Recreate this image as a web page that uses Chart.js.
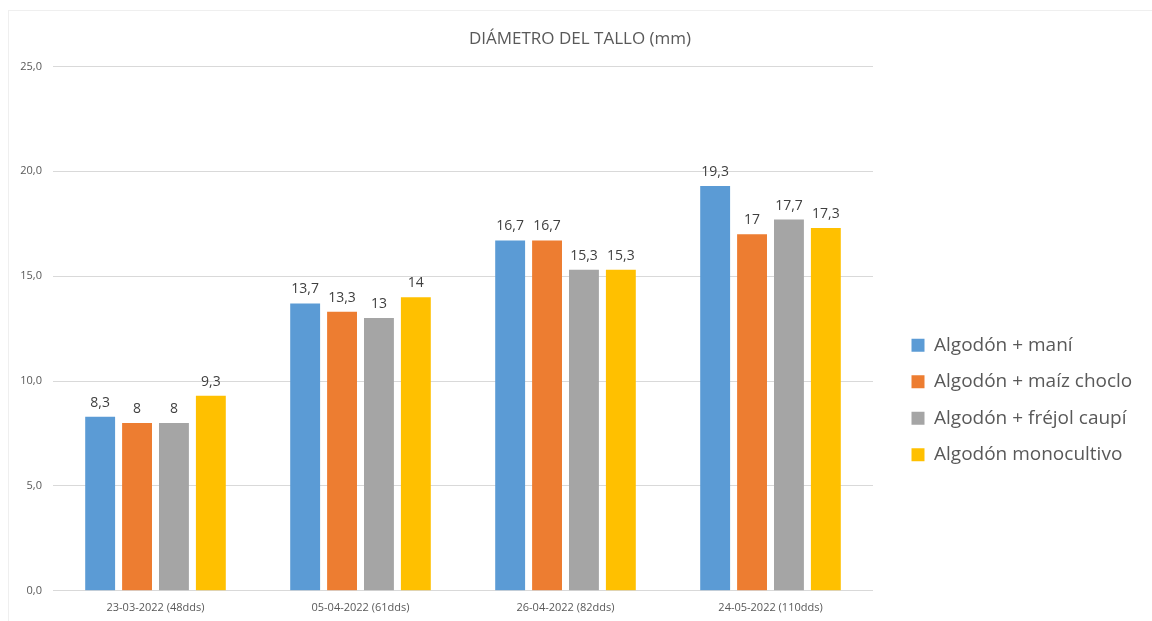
<!DOCTYPE html>
<html>
<head>
<meta charset="utf-8">
<script src="https://cdn.jsdelivr.net/npm/chart.js@4.4.1/dist/chart.umd.min.js"></script>
<style>
  html, body { margin: 0; padding: 0; background: #ffffff; }
  #wrap { width: 1152px; height: 621px; position: relative; }
  canvas { display: block; }
</style>
</head>
<body>
<div id="wrap"><canvas id="chart" width="1152" height="621"></canvas></div>
<script>
// Sampling dates (days after sowing)
const categories = ['23-03-2022 (48dds)', '05-04-2022 (61dds)', '26-04-2022 (82dds)', '24-05-2022 (110dds)'];

// Series names
const seriesNames = ['Algodón + maní', 'Algodón + maíz choclo', 'Algodón + fréjol caupí', 'Algodón monocultivo'];

// Stem diameter (mm) per treatment
const algodonMani = [8.3, 13.7, 16.7, 19.3];
const algodonMaiz = [8, 13.3, 16.7, 17];
const algodonFrejol = [8, 13, 15.3, 17.7];
const algodonMonocultivo = [9.3, 14, 15.3, 17.3];

// Value axis
const yMin = 0;
const yMax = 25;
const yStep = 5;

const seriesValues = [algodonMani, algodonMaiz, algodonFrejol, algodonMonocultivo];
const seriesColors = ['#5B9BD5', '#ED7D31', '#A5A5A5', '#FFC000'];

const FONT = "'Open Sans', 'Liberation Sans', sans-serif";
const decimalComma = v => String(v).replace('.', ',');

// White background and faint frame around the chart
const framePlugin = {
  id: 'frame',
  beforeDraw(chart) {
    const ctx = chart.ctx;
    ctx.save();
    ctx.fillStyle = '#ffffff';
    ctx.fillRect(0, 0, chart.width, chart.height);
    ctx.strokeStyle = '#efefef';
    ctx.lineWidth = 1;
    ctx.strokeRect(8.5, 10.5, chart.width + 20, chart.height + 20);
    ctx.restore();
  }
};

// Value labels above each bar
const valueLabels = {
  id: 'valueLabels',
  afterDatasetsDraw(chart) {
    const ctx = chart.ctx;
    ctx.save();
    ctx.font = `14px ${FONT}`;
    ctx.fillStyle = '#404040';
    ctx.textAlign = 'center';
    ctx.textBaseline = 'bottom';
    chart.data.datasets.forEach((ds, i) => {
      chart.getDatasetMeta(i).data.forEach((bar, j) => {
        ctx.fillText(decimalComma(ds.data[j]), bar.x, bar.y - 7);
      });
    });
    ctx.restore();
  }
};

// Legend: fixed column width on the right, items placed lower in the column
const LEGEND_WIDTH = 279;
const legendPlacement = {
  id: 'legendPlacement',
  beforeLayout(chart) {
    const lg = chart.legend;
    if (lg && !lg._fixedWidth) {
      const fit = lg.fit.bind(lg);
      lg.fit = function () { fit(); this.width = LEGEND_WIDTH; };
      lg._fixedWidth = true;
    }
  },
  afterUpdate(chart) {
    const lg = chart.legend;
    if (!lg) return;
    const dx = 912 - 18 - lg.left;
    const dy = 92;
    lg.left += dx; lg.right += dx;
    lg.top += dy; lg.bottom += dy;
    if (lg.legendHitBoxes) {
      lg.legendHitBoxes.forEach(h => { h.left += dx; h.top += dy; });
    }
  }
};

new Chart(document.getElementById('chart'), {
  type: 'bar',
  data: {
    labels: categories,
    datasets: seriesNames.map((name, i) => ({
      label: name,
      data: seriesValues[i],
      backgroundColor: seriesColors[i],
      borderWidth: 0,
      barPercentage: 0.81,
      categoryPercentage: 0.72
    }))
  },
  options: {
    responsive: false,
    animation: false,
    devicePixelRatio: 1,
    layout: { padding: { left: 8, right: 0, top: 0, bottom: 5 } },
    plugins: {
      title: {
        display: true,
        text: 'DIÁMETRO DEL TALLO (mm)',
        color: '#595959',
        font: { family: FONT, size: 17, weight: 'normal' },
        padding: { top: 29, bottom: 17 }
      },
      legend: {
        position: 'right',
        align: 'center',
        labels: {
          boxWidth: 13,
          boxHeight: 13,
          padding: 17.5,
          color: '#595959',
          font: { family: FONT, size: 19 }
        }
      },
      tooltip: { enabled: false }
    },
    scales: {
      x: {
        grid: { display: false },
        border: { display: false },
        ticks: {
          color: '#595959',
          font: { family: FONT, size: 11 },
          padding: 2
        }
      },
      y: {
        min: yMin,
        max: yMax,
        grid: { color: '#d9d9d9', drawTicks: false },
        border: { display: false },
        ticks: {
          stepSize: yStep,
          padding: 11,
          color: '#595959',
          font: { family: FONT, size: 11 },
          callback: v => v.toFixed(1).replace('.', ',')
        },
        afterFit(scale) { scale.width = 45; }
      }
    }
  },
  plugins: [framePlugin, valueLabels, legendPlacement]
});
</script>
</body>
</html>
